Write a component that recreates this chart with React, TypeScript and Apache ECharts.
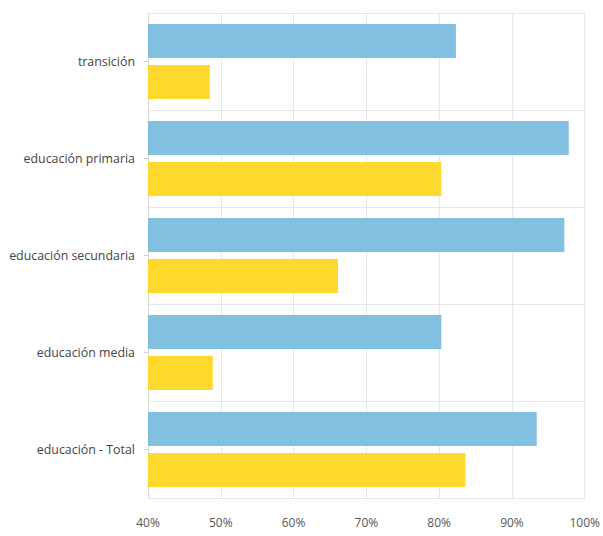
import React, { useEffect, useRef } from "react";
import * as echarts from "echarts";

const categories = [
  "transición",
  "educación primaria",
  "educación secundaria",
  "educación media",
  "educación - Total",
];
const seriesBlue = [82.3, 97.8, 97.2, 80.3, 93.4];
const seriesYellow = [48.5, 80.3, 66.1, 48.9, 83.6];

export default function App() {
  const ref = useRef<HTMLDivElement>(null);
  useEffect(() => {
    if (!ref.current) return;
    const chart = echarts.init(ref.current, undefined, { renderer: "svg" });
    chart.setOption({
      animation: false,
      backgroundColor: "#ffffff",
      grid: { left: 148, right: 16, top: 13, bottom: 38, containLabel: false },
      xAxis: {
        type: "value",
        min: 40,
        max: 100,
        interval: 10,
        axisLine: { show: false },
        axisTick: { show: false },
        axisLabel: {
          formatter: "{value}%",
          color: "#555",
          fontFamily: "Open Sans",
          fontSize: 12,
          margin: 18,
        },
        splitLine: { show: true, lineStyle: { color: "#e6e6ea", width: 1 } },
      },
      yAxis: {
        type: "category",
        inverse: true,
        data: categories,
        axisLine: { show: true, lineStyle: { color: "#d8d8de" } },
        axisTick: { show: true, alignWithLabel: true, length: 4, lineStyle: { color: "#ccc" } },
        axisLabel: {
          color: "#444",
          fontFamily: "Open Sans",
          fontSize: 12.4,
          margin: 13,
          padding: [6, 0, 0, 0],
        },
        splitLine: { show: true, lineStyle: { color: "#e6e6ea", width: 1 } },
      },
      series: [
        {
          type: "bar",
          data: seriesBlue,
          barWidth: 34,
          barGap: "20%",
          itemStyle: { color: "#82C0E2" },
        },
        {
          type: "bar",
          data: seriesYellow,
          barWidth: 34,
          barGap: "20%",
          itemStyle: { color: "#FDD92E" },
        },
      ],
    });
    return () => chart.dispose();
  }, []);
  return (
    <div
      ref={ref}
      style={{ position: "fixed", left: 0, top: 0, width: 603, height: 536 }}
    />
  );
}
